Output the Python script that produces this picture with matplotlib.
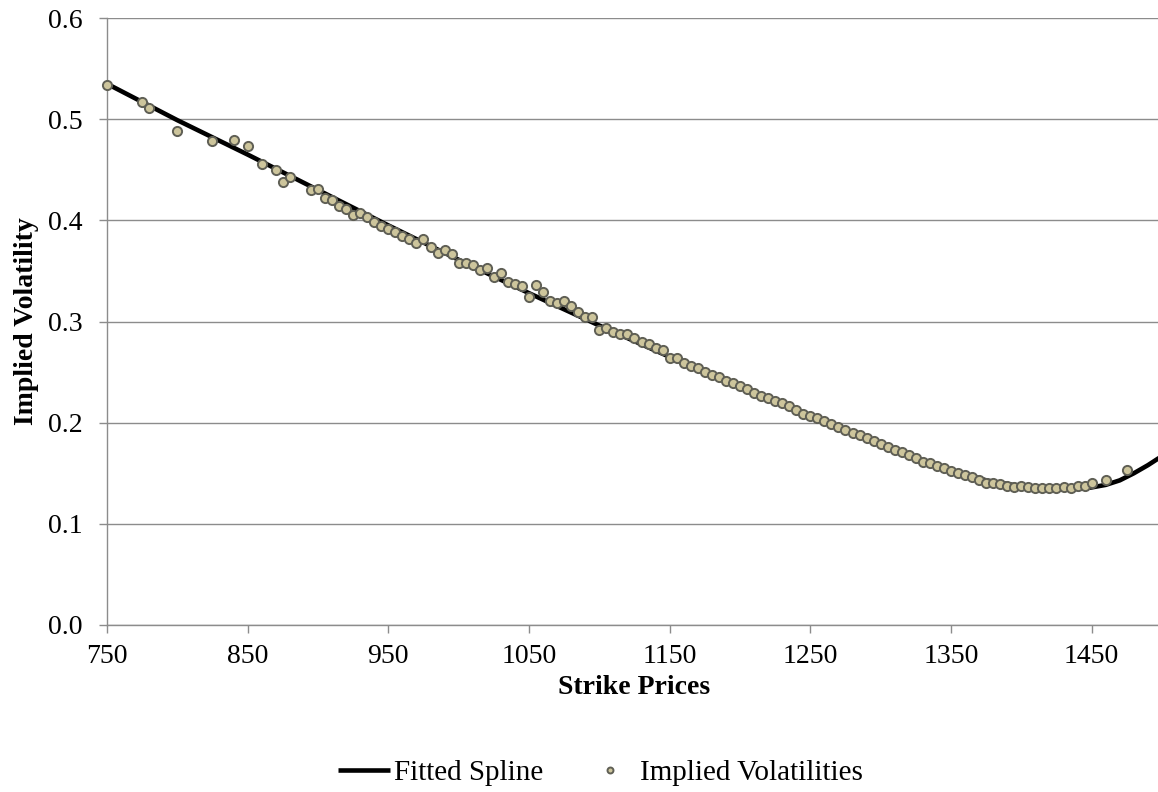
import matplotlib
matplotlib.use("Agg")
import matplotlib.pyplot as plt
from matplotlib.ticker import FormatStrFormatter

plt.rcParams['font.family'] = ['Liberation Serif', 'DejaVu Serif']

# Implied volatility observations
strikes = [750, 775, 780, 800, 825, 840, 850, 860, 870, 875, 880,
           895, 900, 905, 910, 915, 920, 925, 930, 935, 940, 945,
           950, 955, 960, 965, 970, 975, 980, 985, 990, 995,
           1000, 1005, 1010, 1015, 1020, 1025, 1030, 1035, 1040, 1045,
           1050, 1055, 1060, 1065, 1070, 1075, 1080, 1085, 1090, 1095,
           1100, 1105, 1110, 1115, 1120, 1125, 1130, 1135, 1140, 1145,
           1150, 1155, 1160, 1165, 1170, 1175, 1180, 1185, 1190, 1195,
           1200, 1205, 1210, 1215, 1220, 1225, 1230, 1235, 1240, 1245,
           1250, 1255, 1260, 1265, 1270, 1275, 1280, 1285, 1290, 1295,
           1300, 1305, 1310, 1315, 1320, 1325, 1330, 1335, 1340, 1345,
           1350, 1355, 1360, 1365, 1370, 1375, 1380, 1385, 1390, 1395,
           1400, 1405, 1410, 1415, 1420, 1425, 1430, 1435, 1440, 1445,
           1450, 1460, 1475]
implied_vols = [0.534, 0.517, 0.511, 0.488, 0.478, 0.479, 0.473, 0.456, 0.450, 0.438, 0.4425,
                0.430, 0.431, 0.422, 0.420, 0.4145, 0.411, 0.405, 0.407, 0.403, 0.398, 0.394,
                0.391, 0.388, 0.385, 0.3815, 0.378, 0.3815, 0.374, 0.368, 0.3705, 0.3667,
                0.358, 0.358, 0.356, 0.351, 0.353, 0.3435, 0.3475, 0.339, 0.337, 0.3355,
                0.3245, 0.336, 0.3295, 0.3206, 0.318, 0.320, 0.315, 0.309, 0.304, 0.304,
                0.292, 0.294, 0.290, 0.2876, 0.2876, 0.2833, 0.280, 0.2774, 0.2734, 0.2718,
                0.2640, 0.2640, 0.2588, 0.2562, 0.2537, 0.250, 0.247, 0.2455, 0.241, 0.239,
                0.236, 0.233, 0.2297, 0.2267, 0.224, 0.2217, 0.219, 0.2165, 0.213, 0.209,
                0.2066, 0.2043, 0.202, 0.1987, 0.196, 0.1927, 0.190, 0.1878, 0.1845, 0.1815,
                0.179, 0.1758, 0.173, 0.1713, 0.168, 0.1647, 0.1614, 0.1597, 0.157, 0.1548,
                0.152, 0.150, 0.148, 0.146, 0.1433, 0.1407, 0.140, 0.139, 0.1377, 0.136,
                0.1377, 0.136, 0.135, 0.135, 0.135, 0.135, 0.136, 0.135, 0.1377, 0.1377,
                0.1407, 0.1433, 0.1532]

# Fitted spline
spline_x = [750, 800, 850, 900, 950, 1000, 1050, 1100, 1150, 1200, 1250, 1300,
            1325, 1350, 1375, 1400, 1425, 1440, 1450, 1460, 1470, 1480, 1490, 1500]
spline_y = [0.535, 0.499, 0.465, 0.430, 0.395, 0.361, 0.328, 0.296, 0.265, 0.236, 0.207, 0.178,
            0.165, 0.153, 0.143, 0.137, 0.134, 0.1345, 0.136, 0.1385, 0.143, 0.150, 0.158, 0.167]

x_ticks = [750, 850, 950, 1050, 1150, 1250, 1350, 1450]
y_ticks = [0.0, 0.1, 0.2, 0.3, 0.4, 0.5, 0.6]

fig = plt.figure(figsize=(11.58, 7.92), dpi=100)
ax = fig.add_axes([107/1158, 1 - 625/792, (1162 - 107)/1158, (625 - 18)/792])

grid_c = '#8c8c8c'
ax.plot(spline_x, spline_y, color='black', lw=3.3, solid_capstyle='butt',
        label='Fitted Spline', zorder=3, clip_on=False)
ax.plot(strikes, implied_vols, linestyle='none', marker='o', ms=6.6,
        mfc='#cdc59c', mec='#5f5f55', mew=1.4, label='Implied Volatilities',
        zorder=4, clip_on=False)

ax.set_xlim(750, 1500)
ax.set_ylim(0, 0.6)
ax.set_xticks(x_ticks)
ax.set_yticks(y_ticks)
ax.yaxis.set_major_formatter(FormatStrFormatter('%.1f'))
ax.grid(axis='y', color=grid_c, lw=1.0)
ax.set_axisbelow(True)
for s in ['top', 'right']:
    ax.spines[s].set_visible(False)
for s in ['left', 'bottom']:
    ax.spines[s].set_color(grid_c)
    ax.spines[s].set_linewidth(1.0)
ax.tick_params(axis='both', colors=grid_c, length=5.8, width=1.0, labelsize=20,
               labelcolor='black')
ax.tick_params(axis='x', pad=8)
ax.tick_params(axis='y', pad=12)

ax.set_xlabel('Strike Prices', fontsize=20, fontweight='bold', labelpad=4)
ax.set_ylabel('Implied Volatility', fontsize=20, fontweight='bold', labelpad=6)

fig.legend(loc='center', bbox_to_anchor=(600/1158, 1 - 773/792), ncol=2,
           frameon=False, fontsize=21, handlelength=1.8, handletextpad=0.12,
           columnspacing=1.4, markerscale=0.65)

fig.savefig('out.png', dpi=100)
